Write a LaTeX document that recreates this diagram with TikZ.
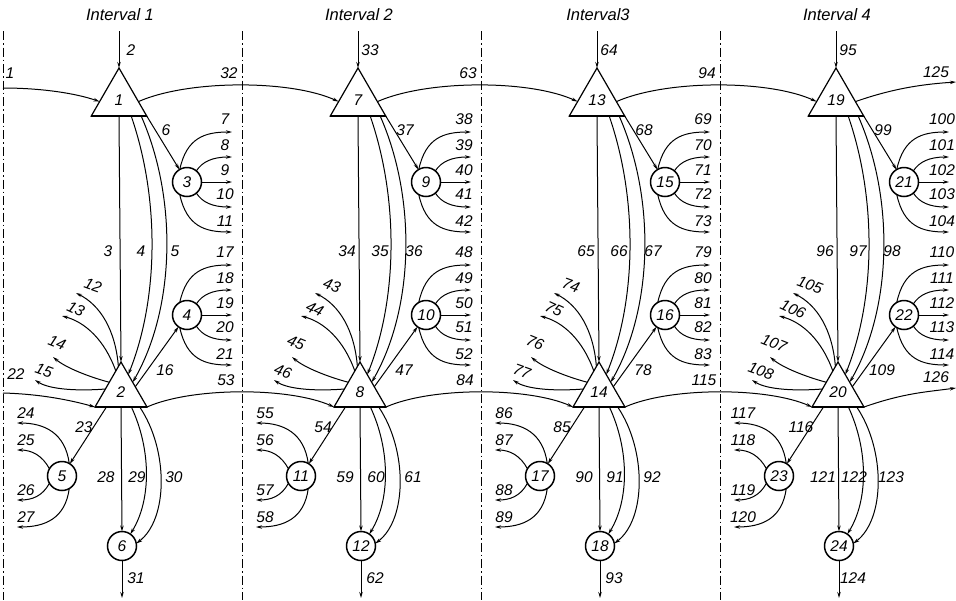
\documentclass[tikz,border=0pt]{standalone}
\usepackage{fontspec}
\newfontfamily\lfont{Liberation Sans}
\usetikzlibrary{shapes.geometric,arrows.meta,calc}
\newcommand\labfont{\lfont\itshape\fontsize{15.5}{17}\selectfont}
\newcommand\titfont{\lfont\itshape\fontsize{16.5}{18}\selectfont}
\newcommand\Lnum[1]{\the\numexpr#1+\off\relax}
\newcommand\Nnum[1]{\the\numexpr#1+\noff\relax}
\begin{document}
\begin{tikzpicture}[x=1pt,y=-1pt,
  ln/.style={line width=1pt},
  arr/.style={ln,-{Stealth[length=6pt,width=3.4pt]}},
  lab/.style={font=\labfont,inner sep=0pt},
  tri/.style={regular polygon,regular polygon sides=3,draw,line width=1.2pt,inner sep=0pt,outer sep=0pt,font=\labfont},
  cn/.style={circle,draw,line width=1.5pt,minimum size=29pt,inner sep=0pt,outer sep=0pt,font=\labfont},
  bnd/.style={line width=0.8pt,dash pattern=on 9pt off 3pt on 1.5pt off 3pt}]
\useasboundingbox (0,0) rectangle (956,600);

\foreach \i in {0,1,2,3}{
 \pgfmathtruncatemacro\off{31*\i}
 \pgfmathtruncatemacro\noff{6*\i}
 \pgfmathtruncatemacro\ttl{\i+1}
 \begin{scope}[xshift=\i*239pt]
  \draw[bnd] (3,31) -- (3,600);
  \node[lab,font=\titfont] (title\i) at (120,15) {\ifnum\i=2 Interval3\else Interval \ttl\fi};
  % nodes
  \node[tri,minimum size=64pt] (ta\i) at (119,100) {\Nnum{1}};
  \node[tri,minimum size=60pt] (tb\i) at (121,392) {\Nnum{2}};
  \draw[line width=2.4pt] (ta\i.corner 2) -- (ta\i.corner 3);
  \draw[line width=2.4pt] (tb\i.corner 2) -- (tb\i.corner 3);
  \node[cn] (ca\i) at (187,182) {\Nnum{3}};
  \node[cn] (cb\i) at (187,315) {\Nnum{4}};
  \node[cn] (cc\i) at (62,476) {\Nnum{5}};
  \node[cn] (cd\i) at (122,546) {\Nnum{6}};
  % top input
  \coordinate (in\i) at (119,31);
  \draw[arr] (in\i) -- (ta\i.corner 1);
  \node[lab] at (131,50) {\Lnum{2}};
  % top triangle to bottom triangle
  \draw[arr] ($(ta\i.corner 2)!0.5!(ta\i.corner 3)$) -- (tb\i.corner 1);
  \draw[arr] ($(ta\i.corner 2)!0.72!(ta\i.corner 3)$) .. controls +(29,84) and +(30,-75) .. ($(tb\i.corner 1)!0.28!(tb\i.corner 3)$);
  \draw[arr] ($(ta\i.corner 2)!0.9!(ta\i.corner 3)$) .. controls +(37,84) and +(42,-73) .. ($(tb\i.corner 1)!0.45!(tb\i.corner 3)$);
  \node[lab] at (108,251) {\Lnum{3}};
  \node[lab] at (141,251) {\Lnum{4}};
  \node[lab] at (175,251) {\Lnum{5}};
  % to node 3
  \draw[arr] (ta\i.corner 3) -- (ca\i);
  \node[lab] at (166,130) {\Lnum{6}};
  % fans of nodes 3 and 4
  \foreach \X/\b in {ca/7,cb/17}{
    \draw[arr] (\X\i.120) .. controls +(7,-32) and +(-27,0) .. ($(\X\i)+(45,-50)$);
    \draw[arr] (\X\i.50) .. controls +(6,-9) and +(-20,0) .. ($(\X\i)+(45,-25)$);
    \draw[arr] (\X\i.east) -- ($(\X\i)+(45,0)$);
    \draw[arr] (\X\i.-50) .. controls +(6,9) and +(-20,0) .. ($(\X\i)+(45,25)$);
    \draw[arr] (\X\i.-120) .. controls +(7,32) and +(-27,0) .. ($(\X\i)+(45,50)$);
    \node[lab] at ($(\X\i)+(38,-63)$) {\Lnum{\b}};
    \node[lab] at ($(\X\i)+(38,-37)$) {\Lnum{\b+1}};
    \node[lab] at ($(\X\i)+(38,-12)$) {\Lnum{\b+2}};
    \node[lab] at ($(\X\i)+(38,12)$) {\Lnum{\b+3}};
    \node[lab] at ($(\X\i)+(38,39)$) {\Lnum{\b+4}};
  }
  % left outputs of bottom triangle
  \draw[arr] ($(tb\i.corner 1)!0.1!(tb\i.corner 2)$) .. controls +(-3,-37) and +(24,12) .. (76,293);
  \draw[arr] ($(tb\i.corner 1)!0.2!(tb\i.corner 2)$) .. controls +(-11,-31) and +(23,6) .. (62,316);
  \draw[arr] ($(tb\i.corner 1)!0.45!(tb\i.corner 2)$) .. controls +(-19,-5) and +(13,11) .. (53,357);
  \draw[arr] ($(tb\i.corner 1)!0.6!(tb\i.corner 2)$) .. controls +(-25,2) and +(15,10) .. (35,380);
  \node[lab,rotate=-20] at (93,285) {\Lnum{12}};
  \node[lab,rotate=-25] at (76,309) {\Lnum{13}};
  \node[lab,rotate=-22] at (57,343) {\Lnum{14}};
  \node[lab,rotate=-20] at (44,371) {\Lnum{15}};
  % to node 4
  \draw[arr] ($(tb\i.corner 1)!0.55!(tb\i.corner 3)$) -- (cb\i);
  \node[lab] at (165,370) {\Lnum{16}};
  % to node 5 and its fan
  \draw[arr] ($(tb\i.corner 2)!0.22!(tb\i.corner 3)$) -- (cc\i);
  \node[lab] at (84,427) {\Lnum{23}};
  \draw[arr] (cc\i.60) .. controls +(-4,-30) and +(28,0) .. ($(cc\i)+(-45,-53)$);
  \draw[arr] (cc\i.150) .. controls +(-7,-13) and +(15,0) .. ($(cc\i)+(-45,-26)$);
  \draw[arr] (cc\i.-150) .. controls +(-7,13) and +(15,0) .. ($(cc\i)+(-45,24)$);
  \draw[arr] (cc\i.-60) .. controls +(-4,30) and +(28,0) .. ($(cc\i)+(-45,51)$);
  \node[lab] at ($(cc\i)+(-36,-63)$) {\Lnum{24}};
  \node[lab] at ($(cc\i)+(-36,-36)$) {\Lnum{25}};
  \node[lab] at ($(cc\i)+(-36,14)$) {\Lnum{26}};
  \node[lab] at ($(cc\i)+(-36,41)$) {\Lnum{27}};
  % to node 6
  \draw[arr] ($(tb\i.corner 2)!0.5!(tb\i.corner 3)$) -- (cd\i.north);
  \draw[arr] ($(tb\i.corner 2)!0.7!(tb\i.corner 3)$) .. controls +(20,43) and +(21,-34) .. (cd\i.55);
  \draw[arr] ($(tb\i.corner 2)!0.86!(tb\i.corner 3)$) .. controls +(29,43) and +(32,-24) .. (cd\i.10);
  \node[lab] at (106,477) {\Lnum{28}};
  \node[lab] at (137,477) {\Lnum{29}};
  \node[lab] at (174,477) {\Lnum{30}};
  \coordinate (out\i) at (122,598);
  \draw[arr] (cd\i.south) -- (out\i);
  \node[lab] at (136,578) {\Lnum{31}};
 \end{scope}
}

% inputs of interval 1
\coordinate (lt) at (3,88);
\draw[arr] (lt) .. controls (40,88) and (75,93) .. ($(ta0.corner 1)!0.7!(ta0.corner 2)$);
\node[lab] at (10,73) {1};
\coordinate (lb) at (3,393);
\draw[arr] (lb) .. controls (40,394) and (70,400) .. (tb0.corner 2);
\node[lab] at (16,374) {22};

% chains between intervals
\foreach \i in {0,1,2}{
 \pgfmathtruncatemacro\off{31*\i}
 \pgfmathtruncatemacro\j{\i+1}
 \begin{scope}[xshift=\i*239pt]
  \draw[arr] ($(ta\i.corner 1)!0.7!(ta\i.corner 3)$) .. controls +(50,-22) and +(-48,-22) .. ($(ta\j.corner 1)!0.7!(ta\j.corner 2)$);
  \draw[arr] (tb\i.corner 3) .. controls +(45,-20) and +(-45,-20) .. (tb\j.corner 2);
  \node[lab] at (229,73) {\Lnum{32}};
  \node[lab] at (226,380) {\Lnum{53}};
 \end{scope}
}

% outputs of interval 4
\coordinate (rt) at (956,82);
\coordinate (rb) at (956,388);
\draw[arr] ($(ta3.corner 1)!0.7!(ta3.corner 3)$) .. controls +(40,-14) and +(-30,2) .. (rt);
\draw[arr] (tb3.corner 3) .. controls +(40,-14) and +(-30,4) .. (rb);
\node[lab] at (936,72) {125};
\node[lab] at (936,377) {126};
\end{tikzpicture}
\end{document}
